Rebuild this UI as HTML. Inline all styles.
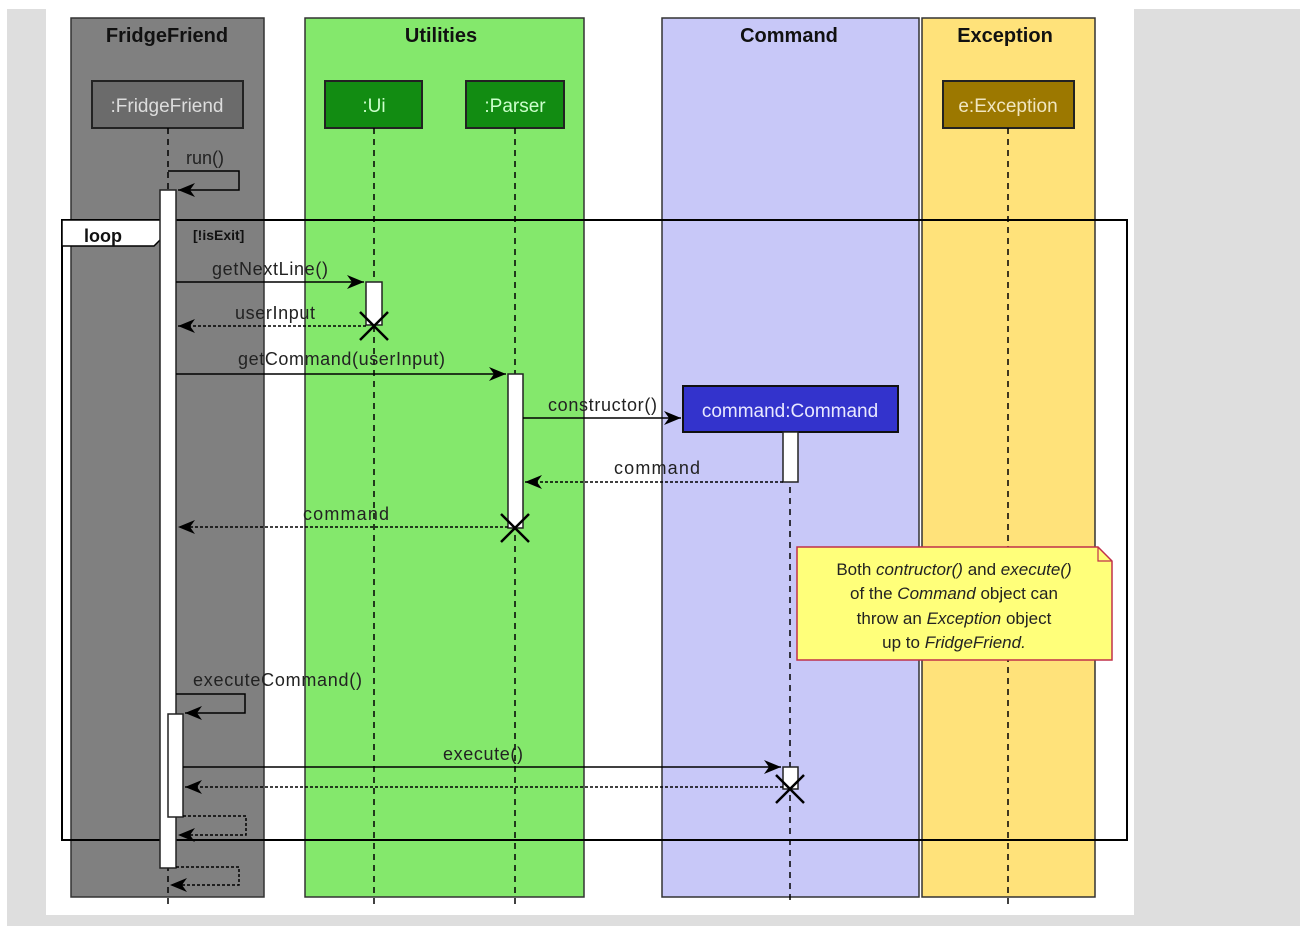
<!DOCTYPE html>
<html><head><meta charset="utf-8"><style>
html,body{margin:0;padding:0;background:#fff;}
svg{display:block;}
text{font-family:"Liberation Sans",sans-serif;}
</style></head><body>
<svg width="1300" height="926" viewBox="0 0 1300 926" xmlns="http://www.w3.org/2000/svg">
<defs>
<marker id="a" markerWidth="18" markerHeight="16" refX="17" refY="8" orient="auto" markerUnits="userSpaceOnUse">
<polygon points="0,1 17,8 0,15 5,8" fill="#000"/>
</marker>
</defs>
<rect x="0" y="0" width="1300" height="926" fill="#fff"/>
<rect x="7" y="9" width="39" height="917" fill="#dedede"/>
<rect x="1134" y="9" width="166" height="917" fill="#dedede"/>
<rect x="7" y="915" width="1293" height="11" fill="#dedede"/>

<rect x="71" y="18" width="193" height="879" fill="#808080" stroke="#333" stroke-width="1.5"/>
<rect x="305" y="18" width="279" height="879" fill="#84e86c" stroke="#333" stroke-width="1.5"/>
<rect x="662" y="18" width="257" height="879" fill="#c8c8f8" stroke="#333" stroke-width="1.5"/>
<rect x="922" y="18" width="173" height="879" fill="#ffe27a" stroke="#333" stroke-width="1.5"/>
<g font-weight="bold" font-size="20" text-anchor="middle" fill="#111">
<text x="167" y="42">FridgeFriend</text>
<text x="441" y="42">Utilities</text>
<text x="789" y="42">Command</text>
<text x="1005" y="42">Exception</text>
</g>

<rect x="92" y="81" width="151" height="47" fill="#6b6b6b" stroke="#222" stroke-width="2"/>
<text x="167" y="112" font-size="19" fill="#ddd" text-anchor="middle">:FridgeFriend</text>
<rect x="325" y="81" width="97" height="47" fill="#128c12" stroke="#222" stroke-width="2"/>
<text x="374" y="112" font-size="19" fill="#cfc" text-anchor="middle">:Ui</text>
<rect x="466" y="81" width="98" height="47" fill="#128c12" stroke="#222" stroke-width="2"/>
<text x="515" y="112" font-size="19" fill="#cfc" text-anchor="middle">:Parser</text>
<rect x="943" y="81" width="131" height="47" fill="#9c7800" stroke="#222" stroke-width="2"/>
<text x="1008" y="112" font-size="19" fill="#f0e6c0" text-anchor="middle">e:Exception</text>

<g stroke="#000" stroke-width="1.5" stroke-dasharray="6,5" fill="none">
<line x1="168" y1="128" x2="168" y2="905"/>
<line x1="374" y1="128" x2="374" y2="905"/>
<line x1="515" y1="128" x2="515" y2="905"/>
<line x1="790" y1="432" x2="790" y2="905"/>
<line x1="1008" y1="128" x2="1008" y2="905"/>
</g>

<rect x="683" y="386" width="215" height="46" fill="#3333cc" stroke="#111" stroke-width="2"/>
<text x="790" y="417" font-size="19" fill="#e8e8ff" text-anchor="middle">command:Command</text>

<rect x="62" y="220" width="1065" height="620" fill="none" stroke="#000" stroke-width="2"/>
<polygon points="62,220 172,220 172,228 154,246 62,246" fill="#fff" stroke="#000" stroke-width="1.5"/>
<text x="84" y="242" font-size="18" font-weight="bold" fill="#111">loop</text>
<text x="193" y="240" font-size="14" font-weight="bold" fill="#111">[!isExit]</text>

<g fill="#fff" stroke="#222" stroke-width="1.5">
<rect x="160" y="190" width="16" height="678"/>
<rect x="168" y="714" width="15" height="103"/>
<rect x="366" y="282" width="16" height="43"/>
<rect x="508" y="374" width="15" height="154"/>
<rect x="783" y="432" width="15" height="50"/>
<rect x="783" y="767" width="15" height="22"/>
</g>

<g stroke="#000" stroke-width="1.5" fill="none">
<polyline points="168,171 239,171 239,190 178,190" marker-end="url(#a)"/>
<line x1="176" y1="282" x2="364" y2="282" marker-end="url(#a)"/>
<line x1="366" y1="326" x2="178" y2="326" stroke-dasharray="3,2" marker-end="url(#a)"/>
<line x1="176" y1="374" x2="506" y2="374" marker-end="url(#a)"/>
<line x1="523" y1="418" x2="681" y2="418" marker-end="url(#a)"/>
<line x1="783" y1="482" x2="525" y2="482" stroke-dasharray="3,2" marker-end="url(#a)"/>
<line x1="508" y1="527" x2="178" y2="527" stroke-dasharray="3,2" marker-end="url(#a)"/>
<polyline points="176,694 245,694 245,713 185,713" marker-end="url(#a)"/>
<line x1="183" y1="767" x2="781" y2="767" marker-end="url(#a)"/>
<line x1="783" y1="787" x2="185" y2="787" stroke-dasharray="3,2" marker-end="url(#a)"/>
<polyline points="183,816 246,816 246,835 178,835" stroke-dasharray="3,2" marker-end="url(#a)"/>
<polyline points="176,867 239,867 239,885 170,885" stroke-dasharray="3,2" marker-end="url(#a)"/>
</g>
<g stroke="#000" stroke-width="2.5">
<line x1="360" y1="312" x2="388" y2="340"/><line x1="388" y1="312" x2="360" y2="340"/>
<line x1="501" y1="514" x2="529" y2="542"/><line x1="529" y1="514" x2="501" y2="542"/>
<line x1="776" y1="775" x2="804" y2="803"/><line x1="804" y1="775" x2="776" y2="803"/>
</g>

<g font-size="18" fill="#222" font-stretch="condensed">
<text x="186" y="164" textLength="38">run()</text>
<text x="212" y="275" textLength="116">getNextLine()</text>
<text x="235" y="319" textLength="80">userInput</text>
<text x="238" y="365" textLength="207">getCommand(userInput)</text>
<text x="548" y="411" textLength="109">constructor()</text>
<text x="614" y="474" textLength="86">command</text>
<text x="303" y="520" textLength="86">command</text>
<text x="193" y="686" textLength="169">executeCommand()</text>
<text x="443" y="760" textLength="80">execute()</text>
</g>

<polygon points="797,547 1098,547 1112,561 1112,660 797,660" fill="#ffff7a" stroke="#c0304a" stroke-width="1.5"/>
<polyline points="1098,547 1098,561 1112,561" fill="none" stroke="#c0304a" stroke-width="1.2"/>
<g font-size="17" fill="#222" text-anchor="middle">
<text x="954" y="575">Both <tspan font-style="italic">contructor()</tspan> and <tspan font-style="italic">execute()</tspan></text>
<text x="954" y="599">of the <tspan font-style="italic">Command</tspan> object can</text>
<text x="954" y="624">throw an <tspan font-style="italic">Exception</tspan> object</text>
<text x="954" y="648">up to <tspan font-style="italic">FridgeFriend.</tspan></text>
</g>
</svg>
</body></html>
